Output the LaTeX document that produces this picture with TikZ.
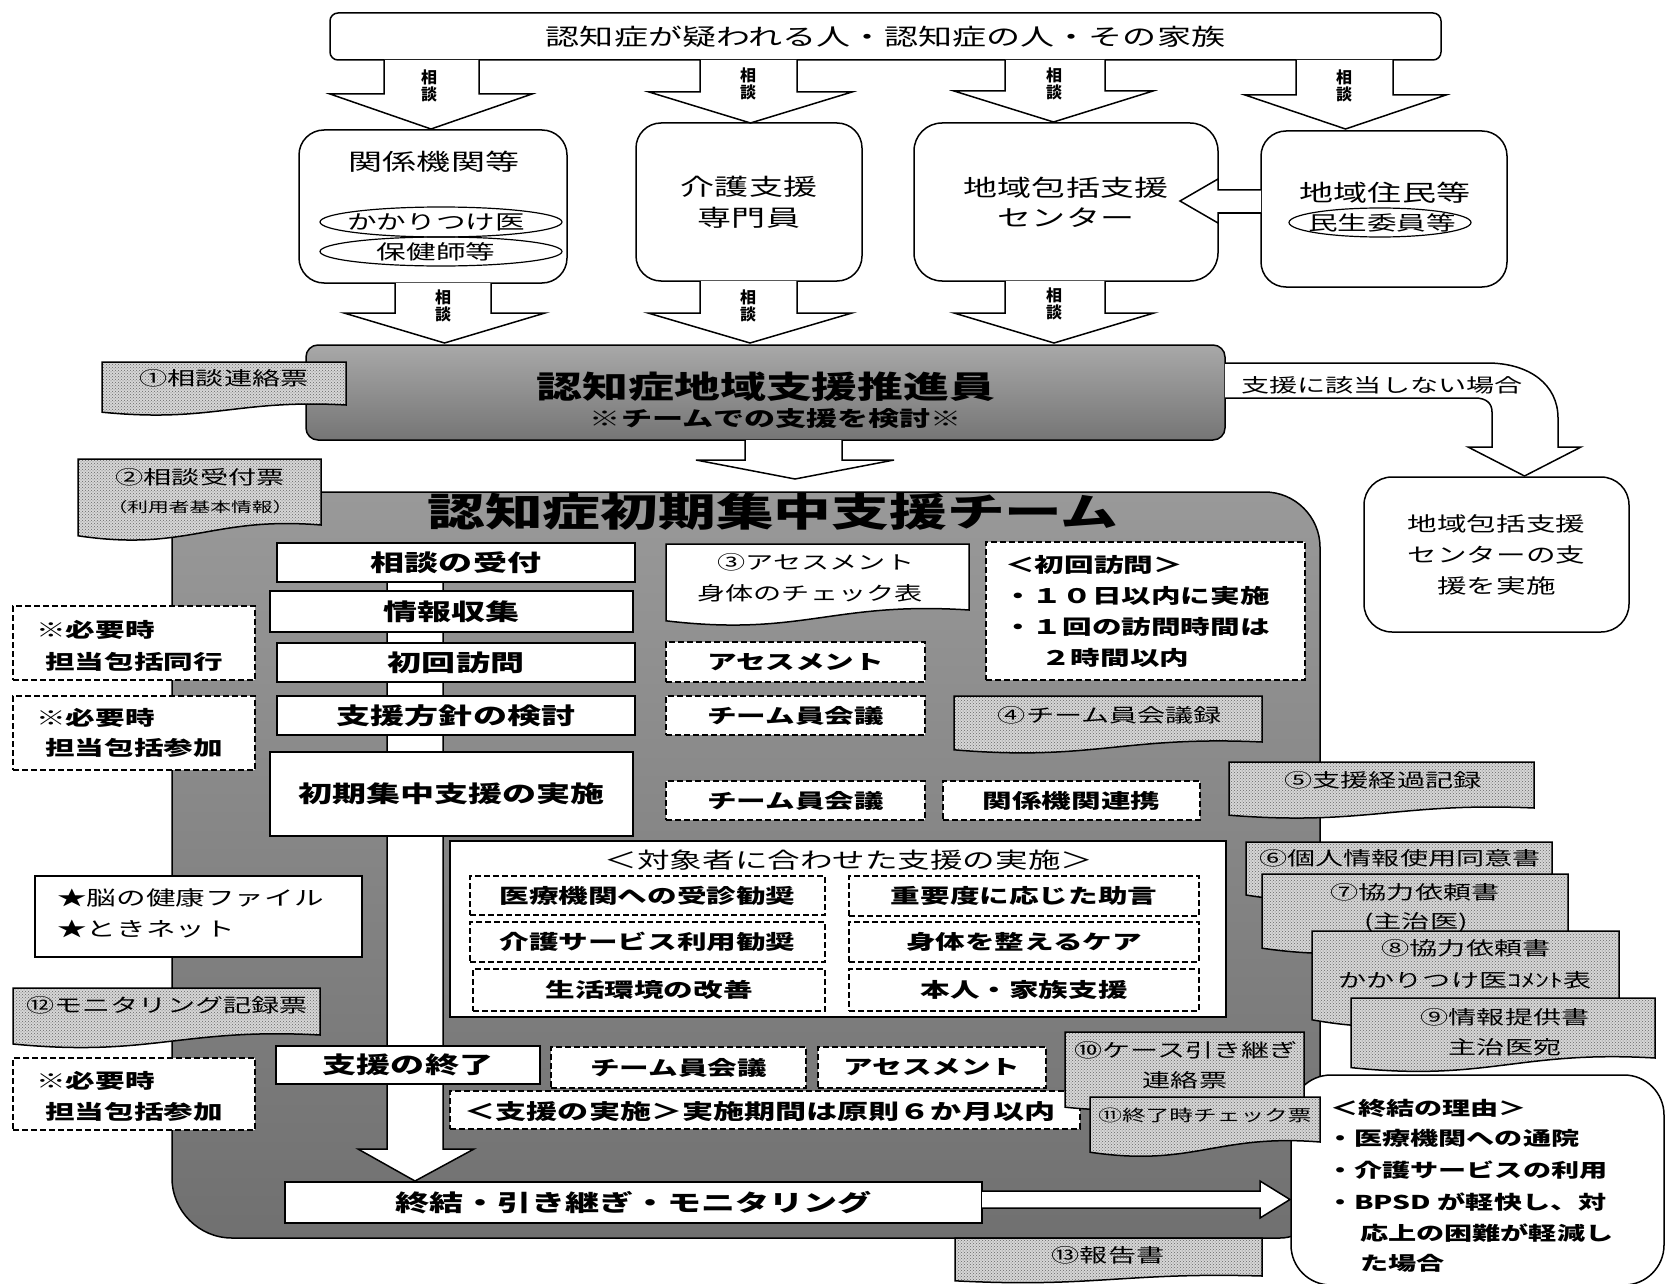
\documentclass[tikz,border=0pt]{standalone}
\usepackage{fontspec}
\setmainfont{Noto Sans CJK JP}[FakeStretch=1.48]
\newfontfamily\jpn{Noto Sans CJK JP}
\usetikzlibrary{patterns,shapes.geometric}
\tikzset{
 fs/.style={font=\fontsize{#1}{#1}\selectfont},
 fb/.style={font=\fontsize{#1}{#1}\selectfont\bfseries},
 fsmall/.style={font=\jpn\fontsize{16}{15}\selectfont\bfseries},
 ln/.style={line width=1.5pt},
 solidbox/.style={draw, ln, fill=white, inner sep=0pt},
 dashbox/.style={draw, ln, fill=white, inner sep=0pt, dash pattern=on 6pt off 3pt},
 roundbox/.style={draw, ln, fill=white, inner sep=0pt, rounded corners=#1},
 docfill/.style={draw, ln, preaction={fill=black!16}, preaction={pattern=crosshatch dots, pattern color=black!60}},
 docwhite/.style={draw, ln, fill=white},
 blk/.style={draw, ln, fill=white, line join=miter},
 txt/.style={inner sep=0pt},
 oval/.style={draw, line width=1.2pt, ellipse, inner sep=0pt}
}
\newcommand\docpath[6]{%
 \path[#1] (#2,#3) -- (#4,#3) -- (#4,#5) .. controls ({#4-0.45*(#4-#2)},{#5-0.5*#6}) and ({#2+0.45*(#4-#2)},{#5+1.5*#6}) .. (#2,{#5+0.6*#6}) -- cycle;}
\newcommand\blkdown[7]{%
 \path[blk] (#1,#3) -- (#1,#4) -- (#5,#4) -- ({(#5+#6)/2},#7) -- (#6,#4) -- (#2,#4) -- (#2,#3);}
\begin{document}
\begin{tikzpicture}[x=1pt,y=-1pt]
\useasboundingbox (0,0) rectangle (1667,1284);
\fill[white] (0,0) rectangle (1667,1284);
\clip (0,0) rectangle (1667,1284);

% ---------- top ----------
\node[roundbox=8, minimum width=1111, minimum height=47, fs=23] (top) at (885.5,36.5) {認知症が疑われる人・認知症の人・その家族};

\node[roundbox=25, minimum width=268, minimum height=153] (kankei) at (433,206.5) {};
\node[txt, fs=23] (kankeit) at (434,162) {関係機関等};
\node[oval, minimum width=242, minimum height=30] (e1) at (441,222) {};
\node[oval, minimum width=242, minimum height=29] (e2) at (441,251.5) {};
\node[txt, fs=20] (e1t) at (436,222) {かかりつけ医};
\node[txt, fs=20] (e2t) at (436,252) {保健師等};
\node[roundbox=25, minimum width=226, minimum height=158, fs=23, align=center] (kaigo) at (749,202) {介護支援\\[8pt]専門員};
\node[roundbox=28, minimum width=304, minimum height=158, fs=23, align=center] (houkatsu) at (1066,202) {地域包括支援\\[7pt]センター};
\node[roundbox=25, minimum width=246, minimum height=156] (jumin) at (1384,209) {};
\node[txt, fs=23] (jumint) at (1385,193) {地域住民等};
\node[oval, minimum width=182, minimum height=29] (e3) at (1380,222.5) {};
\node[txt, fs=20] (e3t) at (1382,223) {民生委員等};

\blkdown{384}{479}{60}{94}{330}{532}{129}
\blkdown{700}{797}{60}{92}{649}{852}{123}
\blkdown{1005}{1105}{60}{91}{954}{1153}{122}
\blkdown{1296}{1393}{60}{95}{1245}{1446}{129}
\node[fsmall, align=center, txt] (la1) at (429,86) {相\\談};
\node[fsmall, align=center, txt] (la2) at (748,84) {相\\談};
\node[fsmall, align=center, txt] (la3) at (1054,84) {相\\談};
\node[fsmall, align=center, txt] (la4) at (1344,86) {相\\談};

\path[blk] (1261,190) -- (1218,190) -- (1218,179) -- (1180,201) -- (1218,223) -- (1218,213) -- (1261,213);

\blkdown{395}{491}{283}{313}{344}{545}{343}
\blkdown{700}{797}{281}{313}{648}{852}{343}
\blkdown{1005}{1105}{281}{313}{954}{1154}{343}
\node[fsmall, align=center, txt] (lb1) at (443,306) {相\\談};
\node[fsmall, align=center, txt] (lb2) at (748,306) {相\\談};
\node[fsmall, align=center, txt] (lb3) at (1054,304) {相\\談};

% ---------- suishin ----------
\node[draw, ln, rounded corners=12, minimum width=919, minimum height=95, inner sep=0pt, top color=black!34, bottom color=black!54] (suishin) at (765.5,392.5) {};
\node[txt, fb=31] (suishint) at (766,387) {認知症地域支援推進員};
\node[txt, fb=21] (suishins) at (776,419) {※チームでの支援を検討※};

\docpath{docfill}{102}{362}{346}{405}{12}
\node[txt, fs=19] (doc1) at (224,378) {①相談連絡票};

% curved arrow
\path[blk] (1225,363) -- (1487,363) .. controls (1530,363) and (1558,385) .. (1558,418) -- (1558,447) -- (1581,447) -- (1524.5,476) -- (1468,447) -- (1492,447) -- (1492,412) .. controls (1492,403) and (1486,398) .. (1475,398) -- (1225,398);
\node[txt, fs=19] (notapp) at (1382,385) {支援に該当しない場合};
\node[roundbox=28, minimum width=265, minimum height=155, fs=20, align=center] (shien) at (1496.5,554.5) {地域包括支援\\[11pt]センターの支\\[11pt]援を実施};

\blkdown{745}{842}{440}{460}{696}{894}{479}

% ---------- team ----------
\shadedraw[ln, top color=black!40, bottom color=black!56] (172,540) -- (172,1178) .. controls (172,1211) and (199,1238) .. (232,1238) -- (1280,1238) .. controls (1302,1238) and (1320,1220) .. (1320,1198) -- (1320,547) .. controls (1320,517) and (1295,492) .. (1265,492) -- (202,492) .. controls (185,492) and (172,505) .. (172,522) -- cycle;
\docpath{docfill}{78}{459}{321}{525}{18}
\node[txt, fs=19] (doc2a) at (200,477) {②相談受付票};
\node[txt, fs=14] (doc2b) at (200,507) {（利用者基本情報）};
\node[txt, fb=39] (teamt) at (773,512) {認知症初期集中支援チーム};

\path[blk] (387,560) -- (387,1149) -- (358,1149) -- (415,1181) -- (474,1149) -- (443,1149) -- (443,560);

\node[solidbox, minimum width=358, minimum height=39, fb=23] (s1) at (456,562.5) {相談の受付};
\node[solidbox, minimum width=363, minimum height=41, fb=23] (s2) at (451.5,611.5) {情報収集};
\node[solidbox, minimum width=358, minimum height=39, fb=23] (s3) at (456,662.5) {初回訪問};
\node[solidbox, minimum width=358, minimum height=39, fb=23] (s4) at (456,715.5) {支援方針の検討};
\node[solidbox, minimum width=363, minimum height=84, fb=23] (s5) at (451.5,794) {初期集中支援の実施};

\docpath{docwhite}{666}{544}{969}{610}{18}
\node[txt, fs=19] (doc3a) at (816,562) {③アセスメント};
\node[txt, fs=19] (doc3b) at (810,593) {身体のチェック表};

\node[dashbox, minimum width=319, minimum height=138] (visit) at (1145.5,611) {};
\node[txt, fb=20, anchor=west] (visit1) at (1005,565) {＜初回訪問＞};
\node[txt, fb=20, anchor=west] (visit2) at (1003,596) {・１０日以内に実施};
\node[txt, fb=20, anchor=west] (visit3) at (1003,627) {・１回の訪問時間は};
\node[txt, fb=20, anchor=west] (visit4) at (1041,658) {２時間以内};

\node[dashbox, minimum width=259, minimum height=40, fb=20] (d1) at (795.5,662) {アセスメント};
\node[dashbox, minimum width=259, minimum height=39, fb=20] (d2) at (795.5,715.5) {チーム員会議};
\docpath{docfill}{954}{696}{1262}{742}{13}
\node[txt, fs=19] (doc4) at (1110,715) {④チーム員会議録};
\node[dashbox, minimum width=259, minimum height=39, fb=20] (d4) at (795.5,800.5) {チーム員会議};
\node[dashbox, minimum width=257, minimum height=39, fb=20] (d5) at (1071.5,800.5) {関係機関連携};

\node[solidbox, line width=1.3pt, minimum width=776, minimum height=176] (taisho) at (838,929) {};
\node[txt, fs=22] (taishot) at (849,860) {＜対象者に合わせた支援の実施＞};
\node[dashbox, minimum width=355, minimum height=39, fb=20] (i1) at (647.5,895.5) {医療機関への受診勧奨};
\node[dashbox, minimum width=355, minimum height=40, fb=20] (i2) at (647.5,942) {介護サービス利用勧奨};
\node[dashbox, minimum width=352, minimum height=42, fb=20] (i3) at (649,990) {生活環境の改善};
\node[dashbox, minimum width=350, minimum height=40, fb=20] (i4) at (1024,896) {重要度に応じた助言};
\node[dashbox, minimum width=350, minimum height=40, fb=20] (i5) at (1024,942) {身体を整えるケア};
\node[dashbox, minimum width=350, minimum height=42, fb=20] (i6) at (1024,990) {本人・家族支援};

\node[solidbox, minimum width=264, minimum height=38, fb=23] (s6) at (408,1065) {支援の終了};
\node[dashbox, minimum width=255, minimum height=41, fb=20] (d6) at (678.5,1067.5) {チーム員会議};
\node[dashbox, minimum width=228, minimum height=41, fb=20] (d7) at (932,1067.5) {アセスメント};
\node[dashbox, minimum width=630, minimum height=38] (d8) at (765,1110) {};
\node[txt, fb=21] (d8t) at (760,1112) {＜支援の実施＞実施期間は原則６か月以内};

\node[solidbox, minimum width=697, minimum height=41, fb=23] (s7) at (633.5,1202.5) {終結・引き継ぎ・モニタリング};

% left side notes
\node[dashbox, minimum width=242, minimum height=74] (n1) at (134,643) {};
\node[txt, fb=20, anchor=west] (n1a) at (36,630) {※必要時};
\node[txt, fb=20, anchor=west] (n1b) at (45,662) {担当包括同行};
\node[dashbox, minimum width=242, minimum height=74] (n2) at (134,733) {};
\node[txt, fb=20, anchor=west] (n2a) at (36,718) {※必要時};
\node[txt, fb=20, anchor=west] (n2b) at (45,748) {担当包括参加};
\node[solidbox, minimum width=327, minimum height=81] (star) at (198.5,916.5) {};
\node[txt, fs=20, anchor=west] (stara) at (57,898) {★脳の健康ファイル};
\node[txt, fs=20, anchor=west] (starb) at (57,929) {★ときネット};
\docpath{docfill}{13}{988}{320}{1035}{15}
\node[txt, fs=19] (doc12) at (167,1005) {⑫モニタリング記録票};
\node[dashbox, minimum width=242, minimum height=72] (n3) at (134,1094) {};
\node[txt, fb=20, anchor=west] (n3a) at (36,1081) {※必要時};
\node[txt, fb=20, anchor=west] (n3b) at (45,1112) {担当包括参加};

% right side documents
\docpath{docfill}{1229}{762}{1534}{808}{12}
\node[txt, fs=19] (doc5) at (1383,780) {⑤支援経過記録};

\node[roundbox=40, minimum width=373, minimum height=210] (reason) at (1477.5,1180) {};
\node[txt, fb=19, anchor=west] (r1) at (1330,1108) {＜終結の理由＞};
\node[txt, fb=19, anchor=west] (r2) at (1326,1138) {・医療機関への通院};
\node[txt, fb=19, anchor=west] (r3) at (1326,1170) {・介護サービスの利用};
\node[txt, fb=19, anchor=west] (r4) at (1326,1202) {・BPSD が軽快し、対};
\node[txt, fb=19, anchor=west] (r5) at (1360,1233) {応上の困難が軽減し};
\node[txt, fb=19, anchor=west] (r6) at (1360,1263) {た場合};

\docpath{docfill}{1246}{842}{1552}{880}{25}
\node[txt, fs=19] (doc6) at (1400,858) {⑥個人情報使用同意書};
\docpath{docfill}{1262}{874}{1568}{935}{22}
\node[txt, fs=19] (doc7a) at (1415,892) {⑦協力依頼書};
\node[txt, fs=19] (doc7b) at (1416,922) {(主治医)};
\docpath{docfill}{1312}{931}{1619}{1003}{28}
\node[txt, fs=19] (doc8a) at (1466,948) {⑧協力依頼書};
\node[txt, fs=19] (doc8b) at (1465,980) {かかりつけ医ｺﾒﾝﾄ表};
\docpath{docfill}{1351}{998}{1655}{1058}{16}
\node[txt, fs=19] (doc9a) at (1505,1017) {⑨情報提供書};
\node[txt, fs=19] (doc9b) at (1505,1047) {主治医宛};

\docpath{docfill}{1065}{1032}{1304}{1100}{12}
\node[txt, fs=19] (doc10a) at (1186,1050) {⑩ケース引き継ぎ};
\node[txt, fs=19] (doc10b) at (1185,1080) {連絡票};
\docpath{docfill}{1090}{1097}{1320}{1142}{17}
\node[txt, fs=16] (doc11) at (1205,1115) {⑪終了時チェック票};

\path[blk] (982,1191) -- (1260,1191) -- (1260,1181) -- (1290,1199.5) -- (1260,1218) -- (1260,1208) -- (982,1208);

\docpath{docfill}{955}{1238}{1262}{1276}{8}
\node[txt, fs=19] (doc13) at (1108,1255) {⑬報告書};
\end{tikzpicture}
\end{document}
